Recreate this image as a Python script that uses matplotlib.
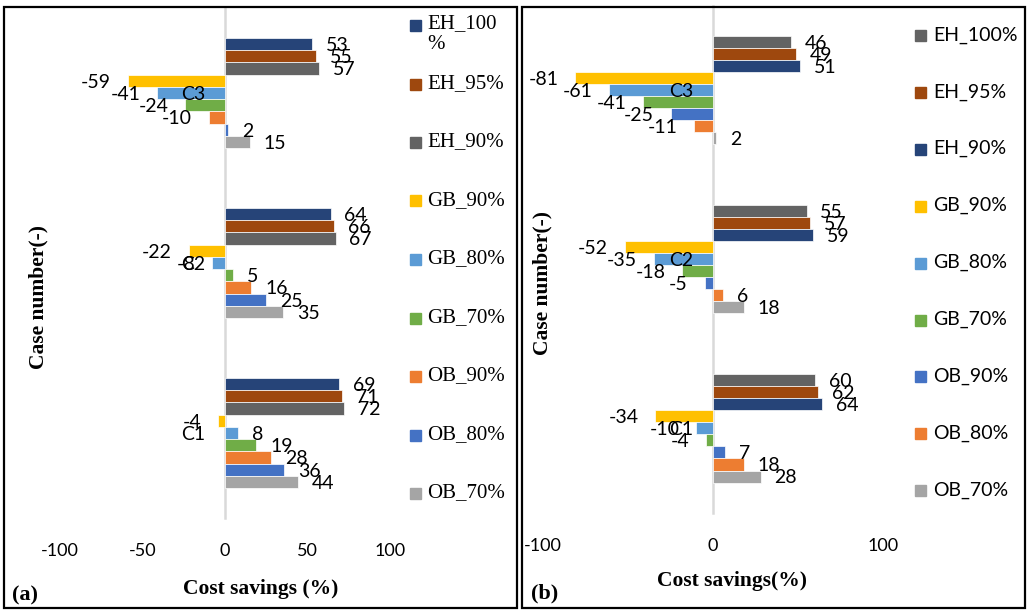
import numpy as np
import matplotlib
matplotlib.use('Agg')
import matplotlib.pyplot as plt
from matplotlib.patches import Rectangle

# cost savings (%) per scenario, listed for C1, C2, C3
cases = ['C1', 'C2', 'C3']
series = ['EH_100%', 'EH_95%', 'EH_90%', 'GB_90%', 'GB_80%',
          'GB_70%', 'OB_90%', 'OB_80%', 'OB_70%']

# (a)
eh100_a = [69, 64, 53]
eh95_a = [71, 66, 55]
eh90_a = [72, 67, 57]
gb90_a = [-4, -22, -59]
gb80_a = [8, -8, -41]
gb70_a = [19, 5, -24]
ob90_a = [28, 16, -10]
ob80_a = [36, 25, 2]
ob70_a = [44, 35, 15]

# (b)
eh100_b = [60, 55, 46]
eh95_b = [62, 57, 49]
eh90_b = [64, 59, 51]
gb90_b = [-34, -52, -81]
gb80_b = [-10, -35, -61]
gb70_b = [-4, -18, -41]
ob90_b = [7, -5, -25]
ob80_b = [18, 6, -11]
ob70_b = [28, 18, 2]

data_a = [eh100_a, eh95_a, eh90_a, gb90_a, gb80_a, gb70_a, ob90_a, ob80_a, ob70_a]
data_b = [eh100_b, eh95_b, eh90_b, gb90_b, gb80_b, gb70_b, ob90_b, ob80_b, ob70_b]

colors_a = ['#264478', '#9E480E', '#636363', '#FFC000', '#5B9BD5',
            '#70AD47', '#ED7D31', '#4472C4', '#A5A5A5']
colors_b = ['#636363', '#9E480E', '#264478', '#FFC000', '#5B9BD5',
            '#70AD47', '#4472C4', '#ED7D31', '#A5A5A5']

SANS = ['Lato', 'DejaVu Sans']
SERIF = ['Liberation Serif', 'DejaVu Serif']

W, H = 1029, 611
fig = plt.figure(figsize=(W / 100, H / 100), dpi=100)


def px_axes(x0, y0, x1, y1):
    # axes from pixel box (top-left origin)
    return fig.add_axes([x0 / W, 1 - y1 / H, (x1 - x0) / W, (y1 - y0) / H])


def draw_panel(ax, data, colors, group_frac, xticks):
    n = len(data)
    h = group_frac / n
    ypos = np.arange(len(cases))
    for i, (vals, c) in enumerate(zip(data, colors)):
        y = ypos + (n // 2 - i) * h
        ax.barh(y, vals, height=h, color=c, edgecolor='white', linewidth=0.5, zorder=2)
        for yy, v in zip(y, vals):
            off = 10 if v >= 0 else -12
            ax.annotate(str(v), (v, yy), xytext=(off, -1), textcoords='offset points',
                        ha='left' if v >= 0 else 'right', va='center',
                        fontsize=14, family=SANS, zorder=5)
    for s in ['top', 'right', 'bottom']:
        ax.spines[s].set_visible(False)
    # category axis sits on the zero line
    ax.spines['left'].set_position(('data', 0))
    ax.spines['left'].set_color('#D9D9D9')
    ax.spines['left'].set_linewidth(1.8)
    ax.spines['left'].set_zorder(1)
    ax.set_axisbelow(False)  # case labels drawn over the bars
    ax.set_xlim(-100, 100)
    ax.set_ylim(-0.5, len(cases) - 0.5)
    ax.set_xticks(xticks)
    ax.set_xticklabels([str(t) for t in xticks], family=SANS, fontsize=13)
    ax.set_yticks(ypos)
    ax.set_yticklabels(cases, family=SANS, fontsize=14)
    ax.tick_params(axis='x', length=0, pad=18)
    ax.tick_params(axis='y', length=0, pad=14)
    ax.patch.set_visible(False)


def draw_legend(x_box, x_text, y0, step, labels, colors, family, size):
    for i, (lab, c) in enumerate(zip(labels, colors)):
        y = y0 + i * step
        fig.add_artist(Rectangle((x_box / W, 1 - (y + 6) / H), 11 / W, 11 / H,
                                 transform=fig.transFigure, color=c))
        if '\n' in lab:
            fig.text(x_text / W, 1 - (y - 11) / H, lab, ha='left', va='top',
                     family=family, fontsize=size, linespacing=1.15)
        else:
            fig.text(x_text / W, 1 - y / H, lab, ha='left', va='center',
                     family=family, fontsize=size)


# panel (a)
ax_a = px_axes(60, 8, 390, 518)
draw_panel(ax_a, data_a, colors_a, 0.647, [-100, -50, 0, 50, 100])
legend_a = ['EH_100\n%'] + series[1:]
draw_legend(410, 427, 25, 58.5, legend_a, colors_a, SERIF, 15)
fig.text(38 / W, 1 - 297 / H, 'Case number(-)', rotation=90, ha='center', va='center',
         family=SERIF, fontsize=15.5, fontweight='bold')
fig.text(261 / W, 1 - 589 / H, 'Cost savings (%)', ha='center', va='center',
         family=SERIF, fontsize=15.5, fontweight='bold')
fig.text(25 / W, 1 - 595 / H, '(a)', ha='center', va='center',
         family=SERIF, fontsize=16, fontweight='bold')

# panel (b)
ax_b = px_axes(543, 5.5, 883, 513)
draw_panel(ax_b, data_b, colors_b, 0.64, [-100, 0, 100])
draw_legend(915, 933, 35, 56.9, series, colors_b, SANS, 14)
fig.text(542 / W, 1 - 283 / H, 'Case number(-)', rotation=90, ha='center', va='center',
         family=SERIF, fontsize=15.5, fontweight='bold')
fig.text(732 / W, 1 - 581 / H, 'Cost savings(%)', ha='center', va='center',
         family=SERIF, fontsize=15.5, fontweight='bold')
fig.text(545 / W, 1 - 593 / H, '(b)', ha='center', va='center',
         family=SERIF, fontsize=16, fontweight='bold')

# panel frames
for x0, x1 in [(4, 517), (522, 1025)]:
    fig.add_artist(Rectangle((x0 / W, 1 - 608 / H), (x1 - x0) / W, 601 / H,
                             transform=fig.transFigure, fill=False, ec='black', lw=1.6))

fig.savefig('out.png', dpi=100)
